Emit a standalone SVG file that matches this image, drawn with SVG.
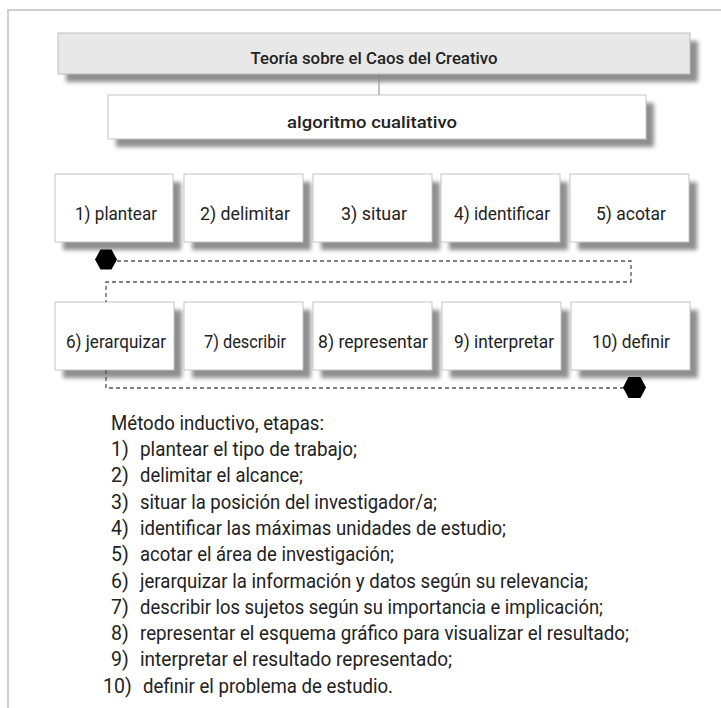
<svg xmlns="http://www.w3.org/2000/svg" width="721" height="708" viewBox="0 0 721 708">
<defs>
<filter id="sh" x="-10%" y="-20%" width="130%" height="160%">
<feGaussianBlur stdDeviation="2"/>
</filter>
<style>
.frame{fill:none;stroke:#cfcfcf;stroke-width:2}
.shadow{fill:#8f8f8f;filter:url(#sh)}
.box{fill:#ffffff;stroke:#c4c4c4;stroke-width:1}
.title{fill:#e8e8e8;stroke:#bdbdbd;stroke-width:1}
.t{font-family:Roboto,"Liberation Sans",sans-serif;fill:#222}
.head{font-size:17px;font-weight:500;text-anchor:middle}
.lbl{font-size:18px;text-anchor:middle}
.lst{font-size:19.5px}
.dash{fill:none;stroke:#555;stroke-width:1.3;stroke-dasharray:4 3}
.solid{fill:none;stroke:#888;stroke-width:1}
.hex{fill:#000}
</style>
</defs>
<path class="frame" d="M8,708 V10 H721"/>

<g id="node-title">
<rect class="shadow" x="66" y="41" width="632" height="41"/>
<rect class="title" x="58" y="33" width="632" height="41"/>
<text class="t head" x="374" y="64" textLength="247" lengthAdjust="spacingAndGlyphs">Teoría sobre el Caos del Creativo</text>
</g>

<g id="node-algoritmo">
<rect class="shadow" x="116" y="103" width="538" height="44"/>
<rect class="box" x="108" y="95" width="538" height="44"/>
<text class="t head" x="372" y="128" textLength="170" lengthAdjust="spacingAndGlyphs">algoritmo cualitativo</text>
</g>

<g id="node-1">
<rect class="shadow" x="63" y="182" width="118" height="68"/>
<rect class="box" x="55" y="174" width="118" height="68"/>
<text class="t lbl" x="116" y="220" textLength="82" lengthAdjust="spacingAndGlyphs">1) plantear</text>
</g>
<g id="node-2">
<rect class="shadow" x="192" y="182" width="119" height="68"/>
<rect class="box" x="184" y="174" width="119" height="68"/>
<text class="t lbl" x="245" y="220" textLength="90" lengthAdjust="spacingAndGlyphs">2) delimitar</text>
</g>
<g id="node-3">
<rect class="shadow" x="321" y="182" width="119" height="68"/>
<rect class="box" x="313" y="174" width="119" height="68"/>
<text class="t lbl" x="374" y="220" textLength="66" lengthAdjust="spacingAndGlyphs">3) situar</text>
</g>
<g id="node-4">
<rect class="shadow" x="449" y="182" width="119" height="68"/>
<rect class="box" x="441" y="174" width="119" height="68"/>
<text class="t lbl" x="502" y="220" textLength="96" lengthAdjust="spacingAndGlyphs">4) identificar</text>
</g>
<g id="node-5">
<rect class="shadow" x="578" y="182" width="119" height="68"/>
<rect class="box" x="570" y="174" width="119" height="68"/>
<text class="t lbl" x="631" y="220" textLength="70" lengthAdjust="spacingAndGlyphs">5) acotar</text>
</g>

<g id="node-6">
<rect class="shadow" x="63" y="310" width="119" height="68"/>
<rect class="box" x="55" y="302" width="119" height="68"/>
<text class="t lbl" x="116" y="348" textLength="100" lengthAdjust="spacingAndGlyphs">6) jerarquizar</text>
</g>
<g id="node-7">
<rect class="shadow" x="192" y="310" width="119" height="68"/>
<rect class="box" x="184" y="302" width="119" height="68"/>
<text class="t lbl" x="245" y="348" textLength="82" lengthAdjust="spacingAndGlyphs">7) describir</text>
</g>
<g id="node-8">
<rect class="shadow" x="321" y="310" width="119" height="68"/>
<rect class="box" x="313" y="302" width="119" height="68"/>
<text class="t lbl" x="373" y="348" textLength="110" lengthAdjust="spacingAndGlyphs">8) representar</text>
</g>
<g id="node-9">
<rect class="shadow" x="450" y="310" width="119" height="68"/>
<rect class="box" x="442" y="302" width="119" height="68"/>
<text class="t lbl" x="504" y="348" textLength="100" lengthAdjust="spacingAndGlyphs">9) interpretar</text>
</g>
<g id="node-10">
<rect class="shadow" x="579" y="310" width="119" height="68"/>
<rect class="box" x="571" y="302" width="119" height="68"/>
<text class="t lbl" x="631" y="348" textLength="78" lengthAdjust="spacingAndGlyphs">10) definir</text>
</g>

<g id="connectors">
<line class="solid" x1="379" y1="74" x2="379" y2="95"/>
<path class="dash" d="M117,261 H631 V282 H106 V302"/>
<path class="dash" d="M106,370 V388 H624"/>
<polygon class="hex" points="95,259.5 100.5,249.5 111.5,249.5 117,259.5 111.5,269.5 100.5,269.5"/>
<polygon class="hex" points="623,387.5 628.5,377 640.5,377 646,387.5 640.5,398 628.5,398"/>
</g>

<g id="text-list" class="t lst">
<text x="111" y="430" textLength="213" lengthAdjust="spacingAndGlyphs">Método inductivo, etapas:</text>
<text x="111" y="456">1)</text><text x="140" y="456" textLength="217" lengthAdjust="spacingAndGlyphs">plantear el tipo de trabajo;</text>
<text x="111" y="482">2)</text><text x="140" y="482" textLength="163" lengthAdjust="spacingAndGlyphs">delimitar el alcance;</text>
<text x="111" y="509">3)</text><text x="140" y="509" textLength="297" lengthAdjust="spacingAndGlyphs">situar la posición del investigador/a;</text>
<text x="111" y="535">4)</text><text x="140" y="535" textLength="366" lengthAdjust="spacingAndGlyphs">identificar las máximas unidades de estudio;</text>
<text x="111" y="561">5)</text><text x="140" y="561" textLength="254" lengthAdjust="spacingAndGlyphs">acotar el área de investigación;</text>
<text x="111" y="588">6)</text><text x="140" y="588" textLength="448" lengthAdjust="spacingAndGlyphs">jerarquizar la información y datos según su relevancia;</text>
<text x="111" y="614">7)</text><text x="140" y="614" textLength="463" lengthAdjust="spacingAndGlyphs">describir los sujetos según su importancia e implicación;</text>
<text x="111" y="640">8)</text><text x="140" y="640" textLength="489" lengthAdjust="spacingAndGlyphs">representar el esquema gráfico para visualizar el resultado;</text>
<text x="111" y="666">9)</text><text x="140" y="666" textLength="312" lengthAdjust="spacingAndGlyphs">interpretar el resultado representado;</text>
<text x="103" y="693">10)</text><text x="143" y="693" textLength="250" lengthAdjust="spacingAndGlyphs">definir el problema de estudio.</text>
</g>
</svg>
